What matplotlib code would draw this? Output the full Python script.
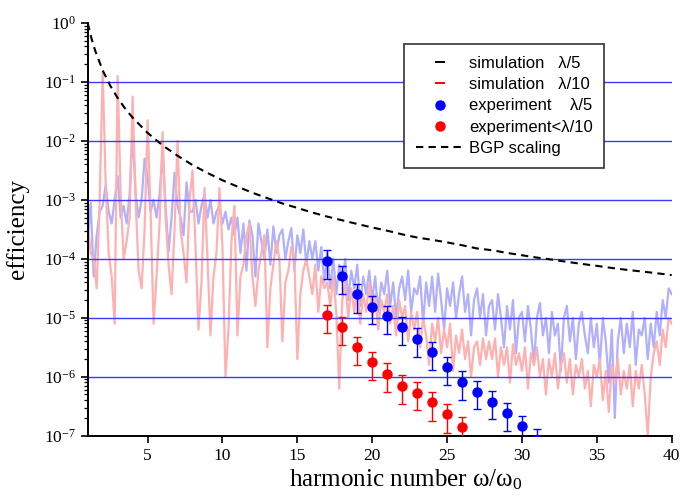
import numpy as np
import matplotlib
matplotlib.use("Agg")
import matplotlib.pyplot as plt
from matplotlib.lines import Line2D
from matplotlib.ticker import FixedLocator, LogFormatterSciNotation, NullFormatter

plt.rcParams['font.family'] = ['Liberation Serif', 'DejaVu Serif']
plt.rcParams['mathtext.fontset'] = 'custom'
plt.rcParams['mathtext.rm'] = 'Liberation Serif'
plt.rcParams['mathtext.it'] = 'Liberation Serif:italic'
plt.rcParams['mathtext.default'] = 'regular'

# simulated spectra, log10(efficiency) every 0.2 harmonic from 1 to 40
# each row: n, n+0.2, n+0.4, n+0.6, n+0.8
sim_lam5_log = [
    -3.7, -3.05, -4.3, -3.6, -3.2,     # 1
    -3.1, -2.75, -3.2, -3.4, -3.0,     # 2
    -2.6, -3.3, -3.1, -3.4, -2.9,      # 3
    -1.85, -2.9, -3.3, -3.0, -2.3,     # 4
    -2.6, -3.2, -3.0, -3.3, -2.9,      # 5
    -2.2, -3.1, -3.88, -3.3, -2.54,    # 6
    -3.1, -3.3, -3.6, -2.7, -3.2,      # 7
    -3.2, -3.0, -3.4, -3.1, -2.9,      # 8
    -3.3, -3.0, -3.4, -3.2, -3.1,      # 9
    -3.4, -3.2, -3.5, -3.3, -3.6,      # 10
    -3.3, -3.9, -3.4, -4.2, -3.35,     # 11
    -3.6, -4.3, -3.4, -3.7, -4.0,      # 12
    -3.5, -4.1, -3.45, -3.9, -3.6,     # 13
    -3.5, -4.0, -3.7, -3.48, -4.2,     # 14
    -3.6, -3.9, -3.5, -4.1, -3.7,      # 15
    -4.0, -3.7, -4.2, -3.8, -4.4,      # 16
    -3.9, -4.5, -4.0, -4.6, -4.1,      # 17
    -4.4, -4.0, -4.7, -4.2, -4.5,      # 18
    -4.1, -4.8, -4.3, -4.6, -4.2,      # 19
    -4.7, -4.3, -4.9, -4.4, -4.6,      # 20
    -4.2, -4.8, -4.4, -5.0, -4.5,      # 21
    -4.3, -4.7, -4.2, -4.9, -4.5,      # 22
    -4.6, -4.3, -5.1, -4.4, -4.8,      # 23
    -4.3, -4.9, -4.25, -4.7, -5.2,     # 24
    -4.5, -4.8, -4.4, -5.0, -4.6,      # 25
    -4.3, -4.9, -4.6, -5.3, -4.7,      # 26
    -4.5, -5.0, -4.6, -5.3, -4.8,      # 27
    -4.7, -5.2, -4.6, -5.0, -5.5,      # 28
    -4.8, -5.2, -4.7, -5.6, -5.0,      # 29
    -4.9, -5.4, -4.8, -5.2, -5.8,      # 30
    -5.0, -4.75, -5.3, -5.0, -5.6,     # 31
    -4.9, -5.3, -5.1, -5.9, -5.0,      # 32
    -4.8, -5.4, -5.0, -5.7, -5.1,      # 33
    -4.9, -5.3, -5.6, -5.0, -5.5,      # 34
    -5.1, -5.8, -5.0, -5.4, -6.1,      # 35
    -5.2, -6.7, -5.4, -5.0, -5.6,      # 36
    -5.1, -5.5, -4.9, -5.8, -5.2,      # 37
    -5.3, -5.0, -5.7, -5.1, -5.5,      # 38
    -4.9, -5.3, -4.7, -5.0, -4.5,      # 39
    -4.6,                              # 40
]

sim_lam10_log = [
    -3.4, -3.9, -4.0, -4.5, -3.0,      # 1
    -0.82, -2.7, -3.9, -4.3, -5.1,     # 2
    -0.9, -2.9, -4.0, -3.7, -3.3,      # 3
    -1.25, -3.0, -4.2, -4.5, -3.5,     # 4
    -1.65, -3.2, -5.1, -4.3, -3.4,     # 5
    -1.85, -3.3, -4.1, -4.6, -3.5,     # 6
    -2.0, -3.5, -3.9, -4.4, -3.0,      # 7
    -2.5, -3.8, -5.2, -4.4, -2.8,      # 8
    -4.0, -5.3, -4.3, -3.9, -2.8,      # 9
    -3.8, -6.0, -5.2, -3.7, -3.1,      # 10
    -5.3, -4.3, -4.1, -3.6, -3.4,      # 11
    -4.3, -4.8, -4.2, -3.9, -3.6,      # 12
    -5.5, -4.5, -4.1, -3.7, -4.0,      # 13
    -5.4, -4.4, -4.2, -3.8, -4.0,      # 14
    -5.7, -4.6, -4.2, -4.0, -4.3,      # 15
    -4.6, -4.1, -4.9, -4.3, -4.5,      # 16
    -4.4, -4.8, -4.3, -4.9, -6.2,      # 17
    -4.7, -4.4, -5.0, -4.5, -4.9,      # 18
    -4.5, -5.1, -4.6, -4.9, -4.4,      # 19
    -5.0, -4.6, -5.2, -4.7, -4.9,      # 20
    -4.6, -5.1, -4.8, -5.3, -4.7,      # 21
    -5.0, -4.8, -5.4, -4.9, -5.2,      # 22
    -4.9, -5.5, -5.0, -5.3, -5.8,      # 23
    -5.1, -5.4, -5.0, -5.6, -5.2,      # 24
    -5.5, -5.1, -5.9, -5.3, -5.6,      # 25
    -5.2, -5.7, -5.4, -6.0, -5.5,      # 26
    -5.4, -5.8, -5.35, -5.7, -5.4,     # 27
    -5.7, -5.35, -6.0, -5.5, -5.8,     # 28
    -5.5, -6.1, -5.45, -5.8, -5.6,     # 29
    -5.9, -5.5, -6.2, -5.6, -5.8,      # 30
    -5.5, -6.0, -5.7, -6.3, -5.7,      # 31
    -6.0, -5.6, -6.2, -5.8, -5.6,      # 32
    -6.1, -5.7, -6.3, -5.8, -6.0,      # 33
    -5.7, -6.2, -5.9, -6.5, -5.8,      # 34
    -6.0, -5.7, -6.4, -5.9, -6.6,      # 35
    -5.8, -6.1, -5.7, -6.3, -5.9,      # 36
    -6.2, -5.8, -6.5, -5.9, -6.2,      # 37
    -5.8, -6.3, -7.0, -6.0, -5.6,      # 38
    -5.4, -5.8, -5.2, -5.5, -5.0,      # 39
    -5.1,                              # 40
]

sim_harmonic = np.linspace(1, 40, len(sim_lam5_log))

# BGP scaling curve
bgp_harmonic = [1, 1.25, 1.5, 2, 2.5, 3, 3.5, 4, 5, 6, 7, 8, 9, 10, 11, 12, 13, 14,
                15, 16, 17, 18, 19, 20, 21, 22, 23, 24, 25, 26, 27, 28, 29, 30,
                31, 32, 33, 34, 35, 36, 37, 38, 39, 40]
bgp_eff = [1.0, 0.551, 0.339, 0.157, 0.0869, 0.0534, 0.0354, 0.0248, 0.0137,
           0.00841, 0.00561, 0.0039, 0.00286, 0.00215, 0.00168, 0.00132,
           0.00107, 8.7e-4, 7.3e-4, 6.1e-4, 5.2e-4, 4.5e-4, 3.9e-4, 3.4e-4,
           3.0e-4, 2.6e-4, 2.3e-4, 2.1e-4, 1.9e-4, 1.7e-4, 1.5e-4, 1.4e-4,
           1.26e-4, 1.15e-4, 1.05e-4, 9.7e-5, 8.9e-5, 8.2e-5, 7.6e-5, 7.0e-5,
           6.5e-5, 6.1e-5, 5.7e-5, 5.3e-5]

# measured harmonics
exp5_harmonic = [17, 18, 19, 20, 21, 22, 23, 24, 25, 26, 27, 28, 29, 30, 31]
exp5_eff = [9.3e-5, 5.1e-5, 2.5e-5, 1.55e-5, 1.07e-5, 7.0e-6, 4.4e-6, 2.6e-6,
            1.45e-6, 8.3e-7, 5.6e-7, 3.8e-7, 2.4e-7, 1.44e-7, 8.5e-8]
exp5_err = [4.7e-5, 2.6e-5, 1.3e-5, 7.8e-6, 5.4e-6, 3.5e-6, 2.2e-6, 1.3e-6,
            7.3e-7, 4.2e-7, 2.8e-7, 1.9e-7, 1.2e-7, 7.2e-8, 4.3e-8]

exp10_harmonic = [17, 18, 19, 20, 21, 22, 23, 24, 25, 26]
exp10_eff = [1.12e-5, 6.9e-6, 3.2e-6, 1.75e-6, 1.12e-6, 7.1e-7, 5.4e-7, 3.7e-7,
             2.3e-7, 1.38e-7]
exp10_err = [5.6e-6, 3.5e-6, 1.6e-6, 8.8e-7, 5.6e-7, 3.6e-7, 2.7e-7, 1.9e-7,
             1.2e-7, 6.9e-8]

decades = [1e-1, 1e-2, 1e-3, 1e-4, 1e-5, 1e-6]
x_ticks = [5, 10, 15, 20, 25, 30, 35, 40]
y_ticks = [1e-7, 1e-6, 1e-5, 1e-4, 1e-3, 1e-2, 1e-1, 1e0]

fig = plt.figure(figsize=(6.97, 5.0), dpi=100)
ax = fig.add_axes([87.7 / 697, 1 - 435.7 / 500, 584 / 697, 412.7 / 500])

ax.plot(sim_harmonic, 10 ** np.array(sim_lam5_log), color='#b0b0ff', lw=1.6, zorder=1)
ax.plot(sim_harmonic, 10 ** np.array(sim_lam10_log), color='#ffb0b0', lw=1.6, zorder=1.2)

for d in decades:
    ax.axhline(d, color='#3a3aff', lw=1.0, zorder=2)

ax.plot(bgp_harmonic, bgp_eff, color='black', lw=1.5, linestyle=(0, (3.5, 2.5)), zorder=3)

ax.errorbar(exp5_harmonic, exp5_eff, yerr=exp5_err, fmt='o', color='blue',
            markersize=6.5, elinewidth=1, capsize=2.6, capthick=1, zorder=4)
ax.errorbar(exp10_harmonic, exp10_eff, yerr=exp10_err, fmt='o', color='red',
            markersize=6.5, elinewidth=1, capsize=2.6, capthick=1, zorder=4)

ax.set_yscale('log')
ax.set_xlim(1, 40)
ax.set_ylim(1e-7, 1)
ax.xaxis.set_major_locator(FixedLocator(x_ticks))
ax.yaxis.set_major_locator(FixedLocator(y_ticks))
ax.yaxis.set_major_formatter(LogFormatterSciNotation())
minor_y = [m * d for d in y_ticks[:-1] for m in range(2, 10)]
ax.yaxis.set_minor_locator(FixedLocator(minor_y))
ax.yaxis.set_minor_formatter(NullFormatter())

for side in ['top', 'right']:
    ax.spines[side].set_visible(False)
for side in ['left', 'bottom']:
    ax.spines[side].set_linewidth(1.4)

ax.tick_params(which='major', direction='out', length=5, width=1.2, labelsize=12.5)
ax.tick_params(which='minor', direction='out', length=3, width=0.9)

ax.set_xlabel('harmonic number ω/ω$_0$', fontsize=18)
ax.xaxis.set_label_coords(0.545, -0.078)
ax.set_ylabel('efficiency', fontsize=18)
ax.yaxis.set_label_coords(-0.10, 0.5)

handles = [
    Line2D([], [], color='black', marker='_', linestyle='none', markersize=7, markeredgewidth=1.4),
    Line2D([], [], color='red', marker='_', linestyle='none', markersize=7, markeredgewidth=1.4),
    Line2D([], [], color='blue', marker='o', linestyle='none', markersize=6.5),
    Line2D([], [], color='red', marker='o', linestyle='none', markersize=6.5),
    Line2D([], [], color='black', lw=1.5, linestyle=(0, (3.5, 2.5))),
]
labels = ['simulation   λ/5', 'simulation   λ/10', 'experiment    λ/5',
          'experiment<λ/10', 'BGP scaling']
leg = ax.legend(handles, labels, loc='upper left', bbox_to_anchor=(0.5416, 0.949),
                borderaxespad=0, frameon=True, fancybox=False, framealpha=1,
                edgecolor='#333333', handlelength=2.9, handletextpad=0.3,
                labelspacing=0.38, borderpad=0.7,
                prop={'family': 'Liberation Sans', 'size': 12})
leg.get_frame().set_linewidth(1.2)
leg.set_zorder(5)

fig.savefig('out.png', dpi=100)
